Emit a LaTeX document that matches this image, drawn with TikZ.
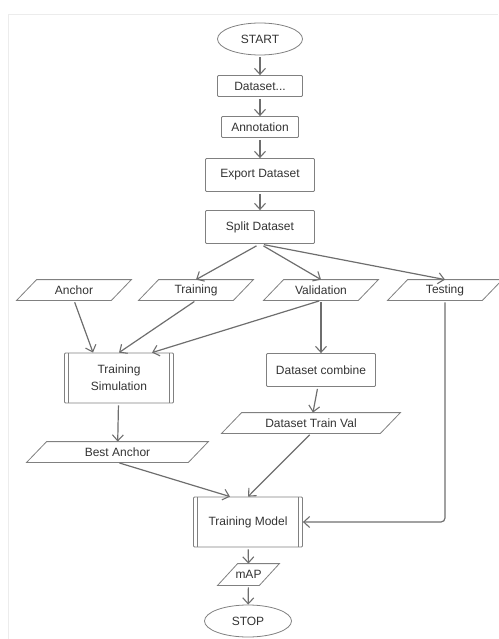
\documentclass[tikz,border=0pt]{standalone}
\usepackage{fontspec}
\setmainfont{Liberation Sans}
\usetikzlibrary{shapes.geometric,arrows.meta}
\definecolor{linegray}{HTML}{6E6E6E}
\definecolor{boxgray}{HTML}{808080}
\definecolor{textgray}{HTML}{333333}
\begin{document}
\begin{tikzpicture}[x=1pt,y=-1pt,
	every node/.style={font=\fontsize{12}{17}\selectfont, text=textgray, draw=boxgray, line width=0.8pt, inner sep=0pt},
	terminal/.style={ellipse, minimum width=85pt, minimum height=32pt},
	procbox/.style={rectangle, rounded corners=1pt, minimum width=109pt, minimum height=33pt},
	predef/.style={procbox, minimum height=50pt, align=center,
		path picture={\draw[boxgray, line width=0.8pt]
			([xshift=4pt]path picture bounding box.north west) -- ([xshift=4pt]path picture bounding box.south west)
			([xshift=-4pt]path picture bounding box.north east) -- ([xshift=-4pt]path picture bounding box.south east);}},
	ioslant/.store in=\ioslant, ioslant=20pt,
	iobox/.style={rectangle, draw=none, minimum width=114pt, minimum height=20pt,
		append after command={\pgfextra{\draw[boxgray, line width=0.8pt]
			([xshift=\ioslant]\tikzlastnode.north west) -- (\tikzlastnode.north east)
			-- ([xshift=-\ioslant]\tikzlastnode.south east) -- (\tikzlastnode.south west) -- cycle;}}},
	flow/.style={draw=linegray, line width=1.2pt, -{Straight Barb[length=6pt,width=11pt,line width=1.1pt]}, shorten <=2pt}]
	\useasboundingbox (0,0) rectangle (498,639);
	\draw[gray!15, line width=0.8pt] (8,639) -- (8,14) -- (498,14);
	% main column
	\node[terminal] (start) at (260,39) {START};
	\node[procbox, minimum width=85pt, minimum height=21pt] (dataset) at (260,86) {Dataset...};
	\node[procbox, minimum width=77pt, minimum height=21pt] (annot) at (260,127) {Annotation};
	\node[procbox] (export) at (260,175) {Export Dataset};
	\node[procbox] (split) at (260,227) {Split Dataset};
	% inputs
	\node[iobox] (anchor) at (74,290) {Anchor};
	\node[iobox] (training) at (196,290) {Training};
	\node[iobox] (valid) at (321,290) {Validation};
	\node[iobox] (testing) at (445,290) {Testing};
	% simulation and combine
	\node[predef] (trsim) at (119,378) {Training\\Simulation};
	\node[procbox] (combine) at (321,370) {Dataset combine};
	\node[iobox, ioslant=28pt, minimum width=178pt] (trainval) at (311,423) {Dataset Train Val};
	\node[iobox, ioslant=36pt, minimum width=181pt] (bestanc) at (117.5,452) {Best Anchor};
	% model
	\node[predef] (model) at (248,522) {Training Model};
	\node[iobox, ioslant=9pt, minimum width=61pt, minimum height=21pt] (map) at (248.5,574.5) {mAP};
	\node[terminal, minimum width=87pt] (stop) at (248,621) {STOP};
	% arrows
	\draw[flow] (start) -- (dataset);
	\draw[flow] (dataset) -- (annot);
	\draw[flow] (annot) -- (export);
	\draw[flow] (export) -- (split);
	\draw[flow, shorten <=4pt] (split.south) -- (training.north);
	\draw[flow, shorten <=4pt] (split.south) -- (valid.north);
	\draw[flow, shorten <=4pt] (split.south) -- (testing.north);
	\draw[flow] (anchor.south) -- ([xshift=-26pt]trsim.north);
	\draw[flow] (training.south) -- (trsim.north);
	\draw[flow] (valid.south) -- ([xshift=33pt]trsim.north);
	\draw[flow] (valid.south) -- (combine.north);
	\draw[flow] (combine) -- (trainval);
	\draw[flow] (trsim) -- (bestanc);
	\draw[flow] (bestanc.south) -- ([xshift=-18pt]model.north);
	\draw[flow] (trainval.south) -- (model.north);
	\draw[flow, rounded corners=4pt] (testing.south) |- (model.east);
	\draw[flow] (model) -- (map);
	\draw[flow] (map) -- (stop);
\end{tikzpicture}
\end{document}
